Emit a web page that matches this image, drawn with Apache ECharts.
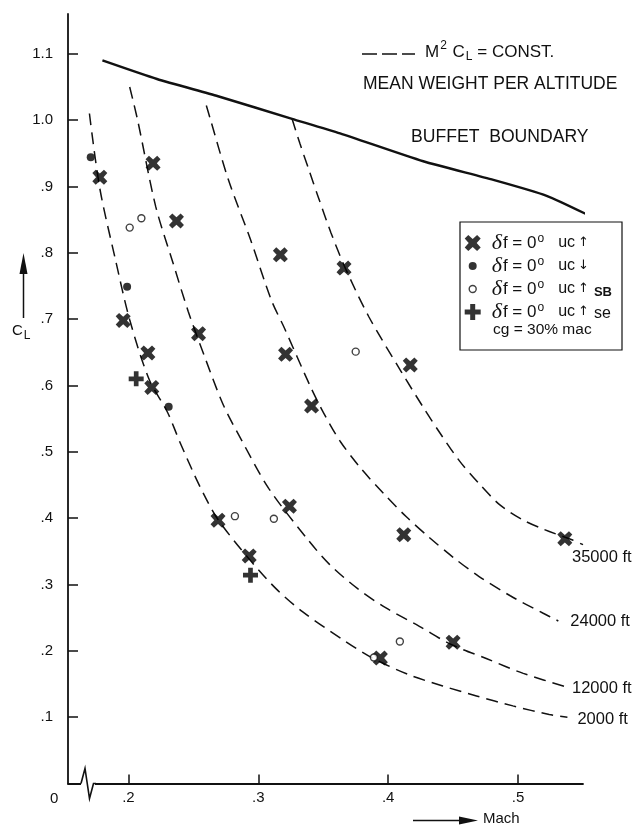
<!DOCTYPE html>
<html>
<head>
<meta charset="utf-8">
<script src="https://cdn.jsdelivr.net/npm/echarts@6/dist/echarts.min.js"></script>
<style>
  html, body { margin: 0; padding: 0; background: #fff; }
  #chart { width: 639px; height: 827px; }
</style>
</head>
<body>
<div id="chart"></div>
<script>
// Lift coefficient vs Mach number: flight points, M²·CL = const lines, buffet boundary

// axis extent and tick labels
const X_MIN = 0.1535, X_MAX = 0.55;
const Y_MIN = 0, Y_MAX = 1.16;
const xTicks = [0.2, 0.3, 0.4, 0.5];
const xTickLabels = ['.2', '.3', '.4', '.5'];
const yTicks = [0.1, 0.2, 0.3, 0.4, 0.5, 0.6, 0.7, 0.8, 0.9, 1.0, 1.1];
const yTickLabels = ['.1', '.2', '.3', '.4', '.5', '.6', '.7', '.8', '.9', '1.0', '1.1'];

// buffet boundary [Mach, CL]
const buffet = [[0.180, 1.090], [0.222, 1.062], [0.269, 1.036], [0.326, 1.002], [0.363, 0.980],
                [0.427, 0.938], [0.481, 0.910], [0.522, 0.886], [0.556, 0.855]];

// M²·CL = const lines, mean weight per altitude [Mach, CL]
const alt2000 = [[0.170, 1.010], [0.178, 0.897], [0.190, 0.790], [0.201, 0.699], [0.216, 0.609],
                 [0.230, 0.560], [0.240, 0.513], [0.255, 0.448], [0.269, 0.398], [0.294, 0.336],
                 [0.314, 0.293], [0.334, 0.259], [0.365, 0.217], [0.388, 0.189], [0.416, 0.164],
                 [0.442, 0.147], [0.468, 0.132], [0.496, 0.117], [0.524, 0.104], [0.538, 0.100]];
const alt12000 = [[0.201, 1.050], [0.207, 1.001], [0.221, 0.870], [0.234, 0.787], [0.246, 0.712],
                  [0.258, 0.647], [0.273, 0.571], [0.287, 0.518], [0.308, 0.445], [0.338, 0.368],
                  [0.355, 0.330], [0.377, 0.293], [0.398, 0.265], [0.424, 0.237], [0.448, 0.210],
                  [0.476, 0.188], [0.504, 0.166], [0.540, 0.144]];
const alt24000 = [[0.260, 1.022], [0.263, 1.002], [0.277, 0.910], [0.294, 0.820], [0.310, 0.729],
                  [0.320, 0.687], [0.340, 0.599], [0.351, 0.556], [0.363, 0.516], [0.379, 0.475],
                  [0.397, 0.436], [0.414, 0.402], [0.431, 0.372], [0.450, 0.341], [0.470, 0.312],
                  [0.494, 0.283], [0.519, 0.257], [0.531, 0.245]];
const alt35000 = [[0.326, 1.002], [0.332, 0.965], [0.339, 0.925], [0.346, 0.885], [0.356, 0.830],
                  [0.367, 0.777], [0.385, 0.704], [0.410, 0.621], [0.428, 0.564], [0.440, 0.528],
                  [0.455, 0.486], [0.470, 0.452], [0.486, 0.420], [0.503, 0.398], [0.520, 0.383],
                  [0.542, 0.367], [0.550, 0.360]];
const curveNames = ['2000 ft', '12000 ft', '24000 ft', '35000 ft'];

// flight test points [Mach, CL]
const ucUp = [[0.178, 0.914], [0.219, 0.935], [0.237, 0.848], [0.317, 0.797], [0.196, 0.698],
              [0.215, 0.649], [0.254, 0.678], [0.321, 0.647], [0.218, 0.597], [0.341, 0.569],
              [0.366, 0.777], [0.417, 0.631], [0.269, 0.397], [0.293, 0.343], [0.324, 0.418],
              [0.412, 0.375], [0.536, 0.369], [0.450, 0.213], [0.394, 0.189]];
const ucDown = [[0.171, 0.944], [0.199, 0.749], [0.231, 0.568]];
const ucUpSB = [[0.201, 0.838], [0.210, 0.852], [0.375, 0.651], [0.282, 0.403], [0.312, 0.399],
                [0.409, 0.214], [0.389, 0.190]];
const ucUpSE = [[0.206, 0.610], [0.294, 0.314]];

const N_UP = 'δf = 0° uc↑', N_DOWN = 'δf = 0° uc↓', N_SB = 'δf = 0° uc↑ SB', N_SE = 'δf = 0° uc↑ se';

const INK = '#111';
const FONT = "'Liberation Sans', Arial, Helvetica, sans-serif";
const DASH = [12, 7];

const X_PATH = 'path://M3.6,0L8,4L12.4,0L16,3.6L12,8L16,12.4L12.4,16L8,12L3.6,16L0,12.4L4,8L0,3.6Z';
const PLUS_PATH = 'path://M5.5,0H10.5V5.5H16V10.5H10.5V16H5.5V10.5H0V5.5H5.5Z';
const DOT_ICON = 'path://M0,0M16,16M8,4A4,4 0 1,1 7.99,4Z';
const RING_ICON = 'path://M0,0M16,16M8,4.5A3.5,3.5 0 1,1 7.99,4.5Z';

const legendText = {};
legendText[N_UP] = '{d|δ}{f|f = 0}{o|o}{u|uc}{a|↑}';
legendText[N_DOWN] = '{d|δ}{f|f = 0}{o|o}{u|uc}{a|↓}';
legendText[N_SB] = '{d|δ}{f|f = 0}{o|o}{u|uc}{a|↑}{sb|SB}';
legendText[N_SE] = '{d|δ}{f|f = 0}{o|o}{u|uc}{a|↑}{se|se}';

function curve(name, data) {
  return {
    name, type: 'line', data, showSymbol: false, smooth: 0.3, silent: true, z: 2,
    lineStyle: { color: INK, width: 1.5, type: DASH }
  };
}

const chart = echarts.init(document.getElementById('chart'), null, { renderer: 'canvas' });

const option = {
  animation: false,
  backgroundColor: '#fff',
  grid: { left: 68, right: 56, top: 14, bottom: 43.5, containLabel: false, outerBoundsMode: 'none' },
  xAxis: {
    type: 'value', min: X_MIN, max: X_MAX,
    axisLine: { lineStyle: { color: INK, width: 1.8 } },
    axisTick: { show: true, inside: true, length: 9, lineStyle: { color: INK, width: 1.5 }, customValues: xTicks },
    axisLabel: {
      customValues: xTicks, margin: 7, color: INK, fontFamily: FONT, fontSize: 15,
      formatter: v => xTickLabels[xTicks.findIndex(t => Math.abs(t - v) < 1e-6)] || ''
    },
    splitLine: { show: false }
  },
  yAxis: {
    type: 'value', min: Y_MIN, max: Y_MAX,
    axisLine: { show: true, lineStyle: { color: INK, width: 1.8 } },
    axisTick: { show: true, inside: true, length: 10, lineStyle: { color: INK, width: 1.5 }, customValues: yTicks },
    axisLabel: {
      customValues: yTicks, margin: 15, color: INK, fontFamily: FONT, fontSize: 15,
      formatter: v => yTickLabels[yTicks.findIndex(t => Math.abs(t - v) < 1e-6)] || ''
    },
    splitLine: { show: false }
  },
  legend: {
    orient: 'vertical', left: 460, top: 222,
    padding: [10, 10, 27, 4],
    itemWidth: 16, itemHeight: 16, itemGap: 1,
    borderColor: INK, borderWidth: 1.2, backgroundColor: '#fff',
    selectedMode: false,
    data: [
      { name: N_UP },
      { name: N_DOWN, icon: DOT_ICON },
      { name: N_SB, icon: RING_ICON, itemStyle: { borderWidth: 1.4, borderColor: INK, color: '#fff' } },
      { name: N_SE }
    ],
    formatter: name => legendText[name],
    textStyle: {
      color: INK, fontFamily: FONT, fontSize: 15, lineHeight: 20,
      rich: {
        d: { fontFamily: "'Liberation Serif', 'DejaVu Serif', serif", fontStyle: 'italic', fontSize: 22, lineHeight: 20, padding: [0, 1, 0, 6] },
        f: { fontFamily: FONT, fontSize: 17, lineHeight: 20 },
        o: { fontFamily: FONT, fontSize: 12, lineHeight: 12, verticalAlign: 'top', padding: [0, 0, 0, 1] },
        u: { fontFamily: FONT, fontSize: 16, lineHeight: 20, padding: [0, 3, 0, 14] },
        a: { fontFamily: "'DejaVu Sans', sans-serif", fontSize: 13, lineHeight: 20 },
        sb: { fontFamily: FONT, fontSize: 13, fontWeight: 'bold', lineHeight: 13, verticalAlign: 'bottom', padding: [0, 0, 0, 5] },
        se: { fontFamily: FONT, fontSize: 16, lineHeight: 17, verticalAlign: 'bottom', padding: [0, 0, 0, 5] }
      }
    }
  },
  series: [
    {
      name: 'Buffet boundary', type: 'line', data: buffet, showSymbol: false, smooth: 0.2,
      silent: true, clip: false, z: 2, lineStyle: { color: INK, width: 2.4 }
    },
    curve(curveNames[0], alt2000),
    curve(curveNames[1], alt12000),
    curve(curveNames[2], alt24000),
    curve(curveNames[3], alt35000),
    { name: N_UP, type: 'scatter', data: ucUp, symbol: X_PATH, symbolSize: 15, itemStyle: { color: '#000' }, z: 5 },
    { name: N_DOWN, type: 'scatter', data: ucDown, symbol: 'circle', symbolSize: 8, itemStyle: { color: '#000' }, z: 5 },
    { name: N_SB, type: 'scatter', data: ucUpSB, symbol: 'circle', symbolSize: 7,
      itemStyle: { color: '#fff', borderColor: INK, borderWidth: 1.4 }, z: 5 },
    { name: N_SE, type: 'scatter', data: ucUpSE, symbol: PLUS_PATH, symbolSize: 15, itemStyle: { color: '#000' }, z: 5 }
  ]
};

chart.setOption(option);

// annotations placed relative to the plotted axes
const px = (m, c) => chart.convertToPixel({ gridIndex: 0 }, [m, c]);
const [ox, oy] = px(X_MIN, 0);
const txt = (x, y, text, size, extra) => ({
  type: 'text', x, y, z: 10,
  style: Object.assign({ text, fill: INK, font: size + 'px ' + FONT, verticalAlign: 'middle', align: 'left' }, extra || {})
});

const curveEnds = [alt2000, alt12000, alt24000, alt35000].map(d => px(d[d.length - 1][0], d[d.length - 1][1]));
const labelShift = [[10, 2], [2, 0], [12, 0], [-11, 13]];

const graphics = [
  // broken-axis mark near the origin
  { type: 'rect', z: 9, shape: { x: ox + 13, y: oy - 2, width: 14, height: 4 }, style: { fill: '#fff' } },
  { type: 'polyline', z: 10, shape: { points: [[ox + 13, oy], [ox + 17, oy - 15], [ox + 21.5, oy + 15], [ox + 25.5, oy], [ox + 28, oy]] },
    style: { stroke: INK, lineWidth: 1.6, fill: null } },
  txt(ox - 18, oy + 15, '0', 15),

  // y axis title with arrow
  { type: 'line', z: 10, shape: { x1: 23.5, y1: 318, x2: 23.5, y2: 268 }, style: { stroke: INK, lineWidth: 1.5 } },
  { type: 'polygon', z: 10, shape: { points: [[23.5, 253], [19.5, 274], [27.5, 274]] }, style: { fill: INK } },
  txt(12, 331, 'C{sub|L}', 15, { rich: { sub: { font: '12px ' + FONT, padding: [9, 0, 0, 1] } } }),

  // x axis title with arrow
  { type: 'line', z: 10, shape: { x1: 413, y1: 820.5, x2: 462, y2: 820.5 }, style: { stroke: INK, lineWidth: 1.5 } },
  { type: 'polygon', z: 10, shape: { points: [[478, 820.5], [459, 816.5], [459, 824.5]] }, style: { fill: INK } },
  txt(483, 819, 'Mach', 15),

  // key for the dashed lines
  { type: 'line', z: 10, shape: { x1: 362, y1: 54, x2: 415, y2: 54 }, style: { stroke: INK, lineWidth: 1.5, lineDash: [15, 5] } },
  txt(425, 52, 'M{sup|2} C{sub|L} = CONST.', 17, {
    rich: {
      sup: { font: '12px ' + FONT, padding: [0, 1, 12, 1] },
      sub: { font: '12px ' + FONT, padding: [10, 0, 0, 1] }
    }
  }),
  txt(363, 84, 'MEAN WEIGHT PER ALTITUDE', 17.5),
  txt(411, 137.5, 'BUFFET  BOUNDARY', 17.6),

  // last line of the legend box
  txt(493, 330, 'cg = 30% mac', 15.5)
];

curveEnds.forEach((p, i) => {
  graphics.push(txt(p[0] + labelShift[i][0], p[1] + labelShift[i][1], curveNames[i], 16.5));
});

chart.setOption({ graphic: graphics });
</script>
</body>
</html>
